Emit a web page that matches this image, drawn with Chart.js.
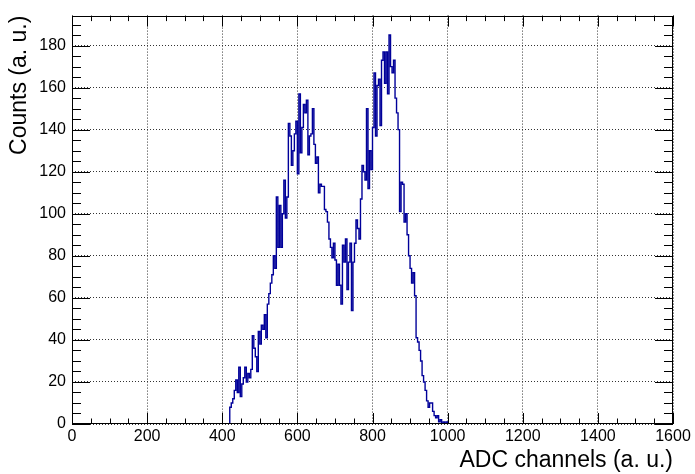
<!DOCTYPE html>
<html>
<head>
<meta charset="utf-8">
<script src="https://cdn.jsdelivr.net/npm/chart.js@4.4.0/dist/chart.umd.min.js"></script>
<style>
  html, body { margin: 0; padding: 0; background: #fff; }
  canvas { display: block; }
</style>
</head>
<body>
<canvas id="spectrum" width="695" height="474"></canvas>
<script>
"use strict";

// ADC spectrum, 4 channel bins starting at channel 420
const firstChannel = 420;
const binWidth = 4;
const counts = [
    8, 10, 12, 16, 21, 15, 27, 13, 19, 22, 27, 20, 24, 22, 26, 42, 36, 32, 25, 44,
    38, 47, 45, 52, 41, 57, 62, 67, 71, 80, 74, 108, 84, 104, 84, 100, 116, 98, 108, 143,
    137, 123, 130, 138, 144, 119, 157, 129, 141, 152, 148, 154, 128, 137, 138, 150, 133, 124, 127, 110,
    114, 113, 113, 102, 101, 96, 88, 84, 79, 86, 78, 66, 76, 66, 57, 85, 77, 88, 64, 77,
    86, 54, 77, 86, 97, 93, 88, 107, 123, 120, 116, 150, 112, 130, 121, 141, 167, 137, 161, 164,
    142, 173, 177, 162, 177, 157, 185, 170, 167, 173, 155, 148, 140, 101, 115, 114, 96, 100, 90, 80,
    74, 67, 72, 61, 41, 39, 35, 30, 23, 20, 16, 11, 8, 10, 10, 6, 4, 3, 4, 1,
    2, 0, 1, 0, 1,
];

const xRange = [0, 1600];
const yRange = [0, 194.25];
const xStep = 200, xMinorStep = 50;
const yStep = 20, yMinorStep = 5;

const xTitle = "ADC channels (a. u.)";
const yTitle = "Counts (a. u.)";

const fontFamily = "'Liberation Sans', Arial, Helvetica, sans-serif";
const lineColor = "#000099";

// step points: each bin's low edge carries its count
const points = [{ x: xRange[0], y: 0 }];
counts.forEach((c, i) => points.push({ x: firstChannel + i * binWidth, y: c }));
points.push({ x: firstChannel + counts.length * binWidth, y: 0 });
points.push({ x: xRange[1], y: 0 });

// ROOT-like frame with inward ticks on all four sides
const rootFrame = {
    id: "rootFrame",
    afterDatasetsDraw(chart) {
        const { ctx, chartArea: a, scales: { x, y } } = chart;
        ctx.save();
        ctx.strokeStyle = "#000";
        ctx.lineWidth = 1;
        ctx.setLineDash([]);
        ctx.beginPath();
        for (let v = xRange[0]; v <= xRange[1]; v += xMinorStep) {
            const px = Math.round(x.getPixelForValue(v)) + 0.5;
            const len = v % xStep === 0 ? 11 : 5.5;
            ctx.moveTo(px, a.bottom);
            ctx.lineTo(px, a.bottom - len);
            ctx.moveTo(px, a.top);
            ctx.lineTo(px, a.top + len);
        }
        for (let v = yRange[0]; v <= yRange[1]; v += yMinorStep) {
            const py = Math.round(y.getPixelForValue(v)) + 0.5;
            const len = v % yStep === 0 ? 18 : 9;
            ctx.moveTo(a.left, py);
            ctx.lineTo(a.left + len, py);
            ctx.moveTo(a.right, py);
            ctx.lineTo(a.right - len, py);
        }
        ctx.stroke();
        ctx.strokeRect(Math.round(a.left) + 0.5, Math.round(a.top) + 0.5,
            Math.round(a.width) - 1, Math.round(a.height) - 1);
        ctx.restore();
    },
};

const ctx = document.getElementById("spectrum").getContext("2d");
const spectrumChart = new Chart(ctx, {
    type: "line",
    data: {
        datasets: [
            {
                data: points,
                borderColor: lineColor,
                borderWidth: 1.4,
                stepped: "before",
                pointRadius: 0,
                fill: false,
            },
        ],
    },
    options: {
        responsive: false,
        animation: false,
        devicePixelRatio: 1,
        layout: { padding: { top: 13, right: 22, left: 0, bottom: 0 } },
        plugins: {
            legend: { display: false },
            tooltip: { enabled: false },
        },
        scales: {
            x: {
                type: "linear",
                min: xRange[0],
                max: xRange[1],
                afterFit: (s) => { s.height = 50; },
                ticks: {
                    stepSize: xStep,
                    maxRotation: 0,
                    padding: 3,
                    color: "#000",
                    font: { family: fontFamily, size: 16 },
                    callback: (v) => String(v),
                },
                grid: { color: "#333", lineWidth: 1, drawTicks: false },
                border: { display: false, dash: [1, 2] },
                title: {
                    display: true,
                    text: xTitle,
                    align: "end",
                    color: "#000",
                    font: { family: fontFamily, size: 23 },
                    padding: { top: 0, bottom: 0 },
                },
            },
            y: {
                type: "linear",
                min: yRange[0],
                max: yRange[1],
                afterFit: (s) => { s.width = 72; },
                ticks: {
                    stepSize: yStep,
                    includeBounds: false,
                    padding: 6,
                    color: "#000",
                    font: { family: fontFamily, size: 16 },
                    callback: (v) => String(v),
                },
                grid: { color: "#333", lineWidth: 1, drawTicks: false },
                border: { display: false, dash: [1, 2] },
                title: {
                    display: true,
                    text: yTitle,
                    align: "end",
                    color: "#000",
                    font: { family: fontFamily, size: 23 },
                    padding: { top: 6, bottom: 0 },
                },
            },
        },
    },
    plugins: [rootFrame],
});
</script>
</body>
</html>
